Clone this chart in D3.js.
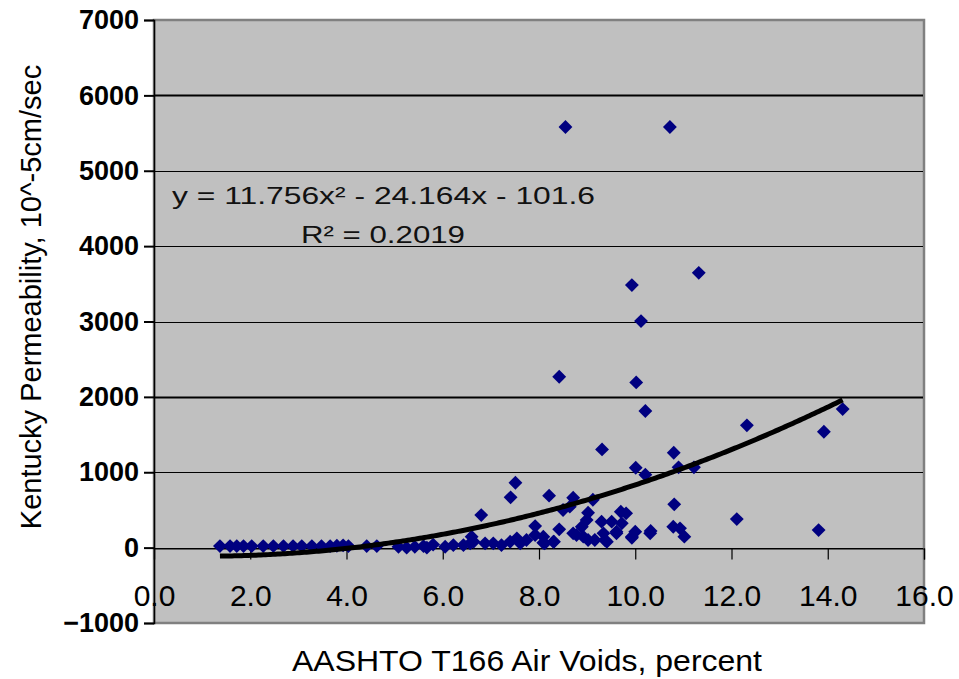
<!DOCTYPE html>
<html>
<head>
<meta charset="utf-8">
<script src="https://cdn.jsdelivr.net/npm/d3@7"></script>
<style>
  body { margin: 0; background: #ffffff; }
  svg { display: block; font-family: "Liberation Sans", Arial, sans-serif; }
</style>
</head>
<body>
<div id="chart"></div>
<script>
// Air voids (percent) and permeability (10^-5 cm/sec) for each core
const airVoids = [
  1.37, 1.58, 1.72, 1.86, 2.03, 2.27, 2.48, 2.69, 2.89, 3.07, 3.28, 3.48, 3.66, 3.80, 3.93, 4.04,
  4.42, 4.63, 5.08, 5.25, 5.42, 5.60, 5.67, 5.80, 6.05, 6.22, 6.43, 6.57, 6.64, 6.60, 6.80,
  6.88, 7.05, 7.22, 7.40, 7.41, 7.51, 7.54, 7.61, 7.74, 7.92, 7.92, 8.09, 8.09, 8.12, 8.21,
  8.30, 8.31, 8.42, 8.42, 8.50, 8.55, 8.64, 8.71, 8.71, 8.78, 8.89, 8.92, 8.99, 9.02, 9.02,
  9.12, 9.16, 9.30, 9.31, 9.34, 9.37, 9.41, 9.51, 9.61, 9.61, 9.70, 9.72, 9.81, 9.93, 9.93,
  9.93, 10.00, 10.01, 10.02, 10.12, 10.21, 10.21, 10.31, 10.32, 10.72, 10.79, 10.80, 10.81,
  10.90, 10.93, 11.02, 11.22, 11.32, 12.11, 12.32, 13.81, 13.92, 14.31
];
const permeability = [
  20, 20, 20, 20, 20, 20, 20, 20, 20, 20, 20, 20, 20, 25, 30, 20,
  20, 20, 10, 0, 10, 20, 0, 40, 12, 34, 34, 57, 78, 145, 432,
  57, 57, 34, 78, 667, 861, 123, 57, 101, 286, 167, 145, 65, 57, 689,
  78, 78, 243, 2267, 499, 5580, 543, 662, 190, 167, 277, 145, 366, 463, 101,
  635, 101, 344, 1303, 190, 101, 78, 344, 211, 190, 476, 322, 455, 3483, 131,
  145, 211, 1060, 2192, 3005, 1812, 967, 190, 220, 5580, 277, 1259, 574,
  1065, 256, 145, 1065, 3646, 379, 1622, 233, 1537, 1838
];

// Second-order polynomial trendline as reported on the chart
const trendCoefficients = [11.756, -24.164, -101.6];
const trendLabel = "y = 11.756x\u00B2 - 24.164x - 101.6";
const rSquaredLabel = "R\u00B2 = 0.2019";

const xTickValues = [0, 2, 4, 6, 8, 10, 12, 14, 16];
const yTickValues = [-1000, 0, 1000, 2000, 3000, 4000, 5000, 6000, 7000];

const xAxisTitle = "AASHTO T166 Air Voids, percent";
const yAxisTitle = "Kentucky Permeability, 10^-5cm/sec";

const width = 959;
const height = 679;
const plot = { left: 154, right: 924, top: 20, bottom: 623 };

const points = airVoids.map((x, i) => ({ x, y: permeability[i] }));

const svg = d3.select("#chart")
  .append("svg")
  .attr("width", width)
  .attr("height", height);

const x = d3.scaleLinear()
  .domain([0, 16])
  .range([plot.left, plot.right]);

const y = d3.scaleLinear()
  .domain([-1000, 7000])
  .range([plot.bottom, plot.top]);

// Gray plot area with its frame
svg.append("rect")
  .attr("x", plot.left)
  .attr("y", plot.top)
  .attr("width", plot.right - plot.left)
  .attr("height", plot.bottom - plot.top)
  .attr("fill", "#c0c0c0")
  .attr("stroke", "#808080")
  .attr("stroke-width", 2.5);

// Horizontal gridlines
svg.append("g")
  .selectAll("line")
  .data(yTickValues.filter((d) => d > -1000 && d < 7000))
  .enter()
  .append("line")
  .attr("x1", plot.left)
  .attr("x2", plot.right - 1)
  .attr("y1", (d) => Math.round(y(d)) + 0.5)
  .attr("y2", (d) => Math.round(y(d)) + 0.5)
  .attr("stroke", "#000000")
  .attr("stroke-width", (d) => (d === 6000 || d === 2000) ? 2.2 : 1.2);

// Y axis with outside ticks and bold labels
svg.append("g")
  .attr("transform", `translate(${plot.left},0)`)
  .call(d3.axisLeft(y).tickValues(yTickValues).tickSize(10).tickPadding(5).tickFormat(d3.format("d")))
  .call((g) => g.select(".domain").attr("stroke", "#000000").attr("stroke-width", 1.5))
  .call((g) => g.selectAll(".tick line").attr("stroke", "#000000").attr("stroke-width", 2))
  .call((g) => g.selectAll("text")
    .attr("fill", "#000000")
    .style("font-size", "27px")
    .style("font-weight", "700")
    .style("font-family", "\"Liberation Sans\", Arial, sans-serif"));

// X axis crosses at zero, ticks hang below it, labels sit low in the plot
svg.append("g")
  .attr("transform", `translate(0,${Math.round(y(0)) + 0.5})`)
  .call(d3.axisBottom(x).tickValues(xTickValues).tickSize(11).tickPadding(0).tickFormat(d3.format(".1f")))
  .call((g) => g.select(".domain").attr("stroke", "#000000").attr("stroke-width", 1.2))
  .call((g) => g.selectAll(".tick line").attr("stroke", "#000000").attr("stroke-width", 1.2))
  .call((g) => g.selectAll("text")
    .attr("fill", "#000000")
    .attr("y", 57)
    .attr("dy", 0)
    .style("font-size", "30px")
    .style("font-family", "\"Liberation Sans\", Arial, sans-serif"));

// Data points as navy diamonds
svg.append("g")
  .selectAll("path")
  .data(points)
  .enter()
  .append("path")
  .attr("d", d3.symbol(d3.symbolSquare, 96))
  .attr("transform", (d) => `translate(${x(d.x)},${y(d.y)}) rotate(45)`)
  .attr("fill", "#000080");

// Polynomial trendline over the range of the data
const [a, b, c] = trendCoefficients;
const [xMin, xMax] = d3.extent(airVoids);
const trendPoints = d3.range(xMin, xMax, 0.05).concat([xMax])
  .map((v) => ({ x: v, y: a * v * v + b * v + c }));

svg.append("path")
  .datum(trendPoints)
  .attr("fill", "none")
  .attr("stroke", "#000000")
  .attr("stroke-width", 5)
  .attr("d", d3.line().x((d) => x(d.x)).y((d) => y(d.y)));

// Trendline equation and fit
svg.append("text")
  .attr("x", 172)
  .attr("y", 204)
  .attr("textLength", 423)
  .attr("lengthAdjust", "spacingAndGlyphs")
  .attr("fill", "#111111")
  .style("font-size", "24px")
  .text(trendLabel);

svg.append("text")
  .attr("x", 301)
  .attr("y", 243)
  .attr("textLength", 164)
  .attr("lengthAdjust", "spacingAndGlyphs")
  .attr("fill", "#111111")
  .style("font-size", "24px")
  .text(rSquaredLabel);

// Axis titles
svg.append("text")
  .attr("x", 527)
  .attr("y", 671)
  .attr("text-anchor", "middle")
  .attr("textLength", 470)
  .attr("lengthAdjust", "spacingAndGlyphs")
  .attr("fill", "#000000")
  .style("font-size", "30px")
  .text(xAxisTitle);

svg.append("text")
  .attr("transform", "translate(41,297) rotate(-90)")
  .attr("text-anchor", "middle")
  .attr("fill", "#000000")
  .style("font-size", "29px")
  .text(yAxisTitle);
</script>
</body>
</html>
